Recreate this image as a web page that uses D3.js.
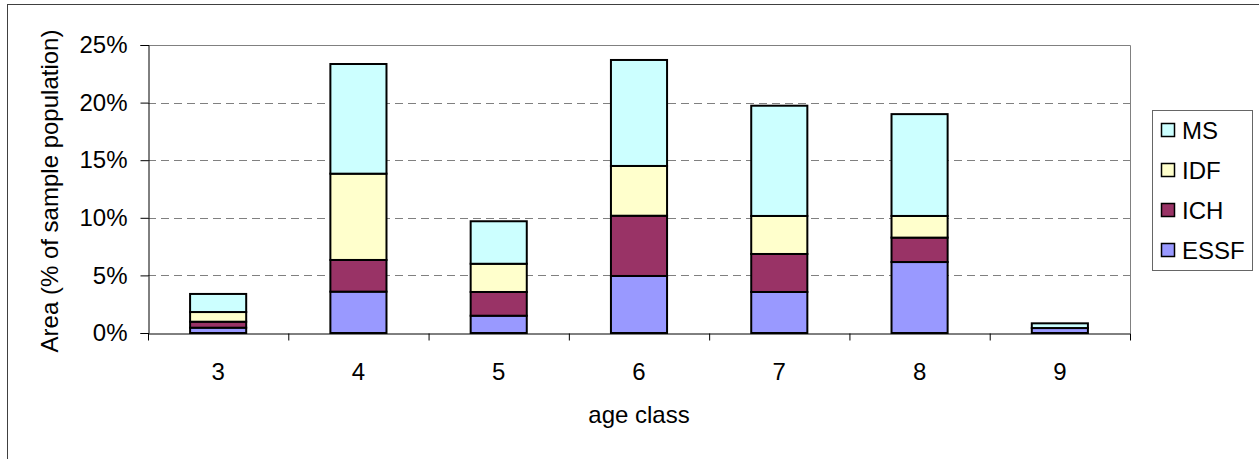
<!DOCTYPE html>
<html>
<head>
<meta charset="utf-8">
<script src="https://cdn.jsdelivr.net/npm/d3@7"></script>
<style>
  body { margin: 0; background: #fff; }
  text { font-family: "Liberation Sans", Arial, sans-serif; fill: #000; }
</style>
</head>
<body>
<div id="chart-area"></div>
<script>
// values, % of sample population
var ageClass = ["3", "4", "5", "6", "7", "8", "9"];
var essf = [0.46, 3.59, 1.50, 4.95, 3.56, 6.16, 0.43];
var ich  = [0.52, 2.75, 2.06, 5.23, 3.30, 2.12, 0.00];
var idf  = [0.84, 7.49, 2.45, 4.32, 3.30, 1.88, 0.00];
var ms   = [1.57, 9.52, 3.69, 9.20, 9.57, 8.84, 0.41];
var yTicks = [0, 5, 10, 15, 20, 25];

var keys = ["ESSF", "ICH", "IDF", "MS"];
var colors = { ESSF: "#9999ff", ICH: "#993366", IDF: "#ffffcc", MS: "#ccffff" };

var rows = ageClass.map(function(a, i) {
    return { age: a, ESSF: essf[i], ICH: ich[i], IDF: idf[i], MS: ms[i] };
});

var W = 1259, H = 459;
var plot = { left: 148, right: 1130, top: 45, bottom: 333 };

var svg = d3.select("#chart-area")
    .append("svg")
        .attr("width", W)
        .attr("height", H);

// chart border
svg.append("rect")
    .attr("x", 7.5).attr("y", 4.5)
    .attr("width", 1300).attr("height", 500)
    .attr("fill", "none")
    .attr("stroke", "#404040");

var x = d3.scaleBand()
    .domain(ageClass)
    .range([plot.left, plot.right])
    .paddingInner(0.6)
    .paddingOuter(0.3);

var xEdge = d3.scaleLinear()
    .domain([0, ageClass.length])
    .range([plot.left, plot.right]);

var y = d3.scaleLinear()
    .domain([0, 25])
    .range([plot.bottom, plot.top]);

// gridlines
svg.append("g")
    .selectAll("line")
    .data(yTicks.filter(function(d) { return d > 0 && d < 25; }))
    .enter().append("line")
        .attr("x1", plot.left).attr("x2", plot.right)
        .attr("y1", function(d) { return Math.round(y(d)) + 0.5; })
        .attr("y2", function(d) { return Math.round(y(d)) + 0.5; })
        .attr("stroke", "#808080")
        .attr("stroke-dasharray", "8,5");

// plot area top / right border
svg.append("path")
    .attr("d", "M" + plot.left + "," + (plot.top + 0.5) + "H" + (plot.right + 0.5) + "V" + plot.bottom)
    .attr("fill", "none")
    .attr("stroke", "#808080");

var stack = d3.stack().keys(keys);
var series = stack(rows);

svg.append("g")
    .selectAll("g")
    .data(series)
    .enter().append("g")
        .attr("fill", function(d) { return colors[d.key]; })
    .selectAll("rect")
    .data(function(d) { return d; })
    .enter().append("rect")
        .attr("x", function(d) { return x(d.data.age); })
        .attr("width", x.bandwidth())
        .attr("y", function(d) { return y(d[1]); })
        .attr("height", function(d) { return y(d[0]) - y(d[1]); })
        .attr("stroke", "#000")
        .attr("stroke-width", 2);

// y axis
var yAxisCall = d3.axisLeft(y)
    .tickValues(yTicks)
    .tickSize(8)
    .tickPadding(13)
    .tickFormat(function(d) { return d + "%"; });

var yAxis = svg.append("g")
    .attr("transform", "translate(" + (plot.left + 0.5) + ",0)")
    .call(yAxisCall);
yAxis.selectAll("text").attr("font-size", "24px").attr("font-family", "Liberation Sans, Arial, sans-serif");
yAxis.selectAll("line, path").attr("stroke", "#000");

// x axis: ticks on category edges
var xTickCall = d3.axisBottom(xEdge)
    .ticks(ageClass.length)
    .tickSize(7)
    .tickSizeOuter(0)
    .tickFormat("");

var xAxis = svg.append("g")
    .attr("transform", "translate(0," + (plot.bottom + 0.5) + ")")
    .call(xTickCall);
xAxis.selectAll("line, path").attr("stroke", "#000");

svg.append("g")
    .selectAll("text")
    .data(ageClass)
    .enter().append("text")
        .attr("x", function(d) { return x(d) + x.bandwidth() / 2; })
        .attr("y", 380)
        .attr("font-size", "24px")
        .attr("text-anchor", "middle")
        .text(function(d) { return d; });

svg.append("text")
    .attr("x", (plot.left + plot.right) / 2)
    .attr("y", 423)
    .attr("font-size", "24px")
    .attr("text-anchor", "middle")
    .text("age class");

svg.append("text")
    .attr("transform", "translate(58," + ((plot.top + plot.bottom) / 2 + 2) + ") rotate(-90)")
    .attr("font-size", "24px")
    .attr("text-anchor", "middle")
    .text("Area (% of sample population)");

// legend
var legend = svg.append("g");
legend.append("rect")
    .attr("x", 1152.5).attr("y", 110.5)
    .attr("width", 100).attr("height", 160)
    .attr("fill", "#fff")
    .attr("stroke", "#666");

var legendKeys = keys.slice().reverse();
var item = legend.selectAll("g.item")
    .data(legendKeys)
    .enter().append("g")
        .attr("class", "item")
        .attr("transform", function(d, i) { return "translate(1161," + (130 + i * 40) + ")"; });

item.append("rect")
    .attr("x", 0.5).attr("y", -6.5)
    .attr("width", 13).attr("height", 13)
    .attr("fill", function(d) { return colors[d]; })
    .attr("stroke", "#000")
    .attr("stroke-width", 1.5);

item.append("text")
    .attr("x", 21)
    .attr("y", 8.5)
    .attr("font-size", "24px")
    .text(function(d) { return d; });
</script>
</body>
</html>
